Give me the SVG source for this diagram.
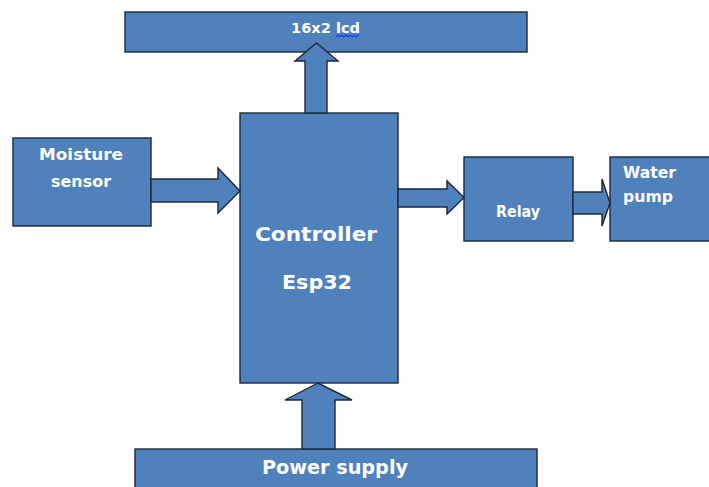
<svg xmlns="http://www.w3.org/2000/svg" width="709" height="487" viewBox="0 0 709 487">
<style>
.box{fill:#4F81BD;stroke:#1c2837;stroke-width:1.4}
.arr{fill:#4F81BD;stroke:#1c2837;stroke-width:1.4;stroke-linejoin:miter}
.t{fill:#ffffff;font-family:"DejaVu Sans","Liberation Sans",sans-serif;font-weight:bold}
</style>
<rect width="709" height="487" fill="#ffffff"/>
<g id="lcd">
<rect class="box" x="125" y="12" width="402" height="40"/>
<text class="t" x="291" y="33" font-size="14" textLength="69" lengthAdjust="spacingAndGlyphs">16x2 lcd</text>
<path d="M336,37 l2,-2 l2,2 l2,-2 l2,2 l2,-2 l2,2 l2,-2 l2,2 l2,-2 l2,2 l2,-2 l1,1" fill="none" stroke="#1f3bff" stroke-width="1.2"/>
</g>
<g id="moisture">
<rect class="box" x="13" y="138" width="138" height="88"/>
<text class="t" x="39" y="160" font-size="16" textLength="84" lengthAdjust="spacingAndGlyphs">Moisture</text>
<text class="t" x="51" y="187" font-size="16" textLength="60" lengthAdjust="spacingAndGlyphs">sensor</text>
</g>
<g id="controller">
<rect class="box" x="240" y="113" width="158" height="270"/>
<text class="t" x="255" y="241" font-size="20" textLength="122" lengthAdjust="spacingAndGlyphs">Controller</text>
<text class="t" x="282" y="289" font-size="20" textLength="70" lengthAdjust="spacingAndGlyphs">Esp32</text>
</g>
<g id="relay">
<rect class="box" x="464" y="157" width="109" height="84"/>
<text class="t" x="496" y="217" font-size="15" textLength="44" lengthAdjust="spacingAndGlyphs">Relay</text>
</g>
<g id="pump">
<rect class="box" x="610" y="157" width="104" height="84"/>
<text class="t" x="623" y="178" font-size="15" textLength="53" lengthAdjust="spacingAndGlyphs">Water</text>
<text class="t" x="623" y="202" font-size="15" textLength="50" lengthAdjust="spacingAndGlyphs">pump</text>
</g>
<g id="power">
<rect class="box" x="135" y="449" width="402" height="45"/>
<text class="t" x="262" y="474" font-size="19" textLength="146" lengthAdjust="spacingAndGlyphs">Power supply</text>
</g>
<g id="connectors">
<polygon class="arr" points="151,179 218,179 218,168 240,191 218,213 218,202 151,202"/>
<polygon class="arr" points="398,189 447,189 447,181 464,197.5 447,214 447,207 398,207"/>
<polygon class="arr" points="573,192 602,192 602,179 610,203 602,226 602,214 573,214"/>
<polygon class="arr" points="305,113 305,61 295,61 316.5,43 338,61 327,61 327,113"/>
<polygon class="arr" points="302,449 302,400 285,400 318,383 352,400 335,400 335,449"/>
</g>
</svg>
